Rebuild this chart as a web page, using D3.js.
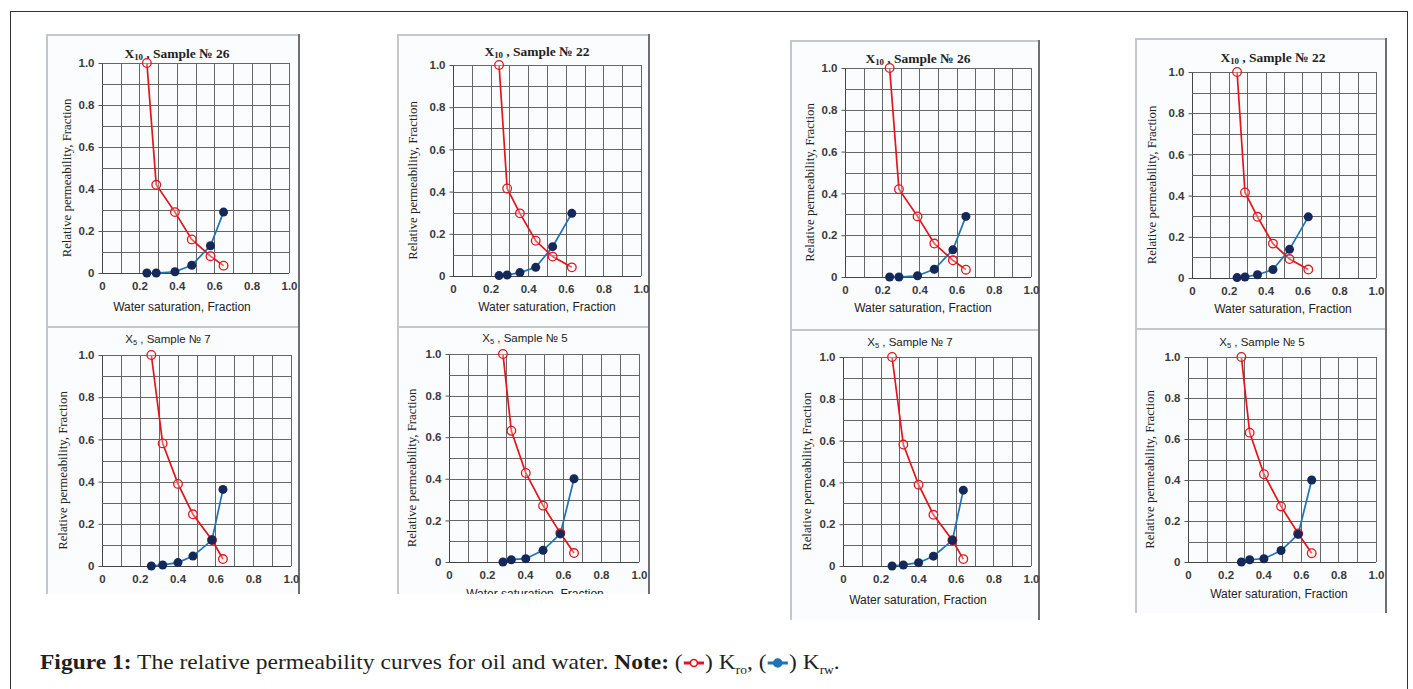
<!DOCTYPE html>
<html>
<head>
<meta charset="utf-8">
<script src="https://cdn.jsdelivr.net/npm/d3@7"></script>
<style>
  body { margin: 0; background: #fff; }
  svg { display: block; }
  .cap text { white-space: pre; }
</style>
</head>
<body>
<svg id="fig" width="1413" height="689"></svg>
<script>
// axis ticks
const swTicks = [0, 0.2, 0.4, 0.6, 0.8, 1.0];
const krTicks = [0, 0.2, 0.4, 0.6, 0.8, 1.0];
const gridSteps = [0, 0.1, 0.2, 0.3, 0.4, 0.5, 0.6, 0.7, 0.8, 0.9, 1.0];

// X10, sample 26
const s26Sw = [0.24, 0.29, 0.39, 0.48, 0.58, 0.65];
const s26Kro = [1.0, 0.42, 0.29, 0.16, 0.08, 0.035];
const s26Krw = [0.0, 0.0, 0.006, 0.037, 0.13, 0.29];

// X10, sample 22
const s22Sw = [0.245, 0.288, 0.356, 0.44, 0.53, 0.632];
const s22Kro = [1.0, 0.415, 0.297, 0.167, 0.092, 0.041];
const s22Krw = [0.002, 0.005, 0.016, 0.041, 0.139, 0.297];

// X5, sample 7
const s7Sw = [0.261, 0.321, 0.402, 0.481, 0.582, 0.64];
const s7Kro = [1.0, 0.581, 0.389, 0.245, 0.123, 0.033];
const s7Krw = [0.0, 0.005, 0.016, 0.047, 0.123, 0.363];

// X5, sample 5
const s5Sw = [0.284, 0.328, 0.404, 0.495, 0.586, 0.658];
const s5Kro = [1.0, 0.631, 0.428, 0.271, 0.139, 0.043];
const s5Krw = [0.0, 0.011, 0.016, 0.056, 0.135, 0.40];

const samples = {
  s26: { well: "10", num: "26", serif: true, sw: s26Sw, kro: s26Kro, krw: s26Krw },
  s22: { well: "10", num: "22", serif: true, sw: s22Sw, kro: s22Kro, krw: s22Krw },
  s7: { well: "5", num: "7", serif: false, sw: s7Sw, kro: s7Kro, krw: s7Krw },
  s5: { well: "5", num: "5", serif: false, sw: s5Sw, kro: s5Kro, krw: s5Krw },
};

// panel placement (the figure repeats the four charts twice)
const panels = [
  { key: "s26", box: [46, 34, 300, 326], px: [102, 289], py: [273, 63], title: [177, 53], yl: 67, xl: [182, 307] },
  { key: "s22", box: [397, 34, 650, 326], px: [453, 641], py: [276, 65], title: [537, 51], yl: 413, xl: [547, 307] },
  { key: "s7", box: [46, 326, 300, 594], px: [102, 291], py: [566, 355], title: [168, 339], yl: 63, xl: [180, 604] },
  { key: "s5", box: [397, 326, 650, 594], px: [449, 639], py: [562, 354], title: [525, 338], yl: 412, xl: [535, 594] },
  { key: "s26", box: [790, 40, 1040, 329], px: [845, 1031], py: [277, 68], title: [918, 58], yl: 810, xl: [923, 308] },
  { key: "s22", box: [1135, 38, 1387, 328], px: [1192, 1376], py: [278, 72], title: [1273, 57], yl: 1152, xl: [1283, 309] },
  { key: "s7", box: [790, 329, 1040, 620], px: [843, 1031], py: [566, 357], title: [910, 342], yl: 807, xl: [918, 600] },
  { key: "s5", box: [1135, 328, 1387, 613], px: [1188, 1376], py: [562, 357], title: [1262, 342], yl: 1150, xl: [1279, 594] },
];

const red = "#e3141c";
const blue = "#1f73b7";
const navy = "#15285a";
const serif = "'Liberation Serif', 'Times New Roman', serif";
const sans = "'Liberation Sans', Arial, sans-serif";

const svg = d3.select("#fig");

// outer frame
svg.append("rect")
  .attr("x", 10.5).attr("y", 11.5)
  .attr("width", 1397).attr("height", 690)
  .attr("fill", "none").attr("stroke", "#333").attr("stroke-width", 1);

const defs = svg.append("defs");

panels.forEach((p, i) => {
  const s = samples[p.key];
  const [bx0, by0, bx1, by1] = p.box;

  defs.append("clipPath").attr("id", `clip${i}`)
    .append("rect").attr("x", bx0).attr("y", by0)
    .attr("width", bx1 - bx0).attr("height", by1 - by0);

  const g = svg.append("g").attr("clip-path", `url(#clip${i})`);

  // panel background + edges
  g.append("rect")
    .attr("x", bx0).attr("y", by0)
    .attr("width", bx1 - bx0).attr("height", by1 - by0)
    .attr("fill", "#fbfcfe");
  g.append("path")
    .attr("d", `M${bx0 + 1},${by1} V${by0 + 1} H${bx1}`)
    .attr("fill", "none").attr("stroke", "#c4c8cc").attr("stroke-width", 2);
  g.append("path")
    .attr("d", `M${bx1 - 1},${by0} V${by1}`)
    .attr("fill", "none").attr("stroke", "#6d6f72").attr("stroke-width", 2);

  const x = d3.scaleLinear().domain([0, 1]).range(p.px);
  const y = d3.scaleLinear().domain([0, 1]).range(p.py);

  // grid
  g.append("g").selectAll("line.v").data(gridSteps).join("line")
    .attr("x1", (d) => Math.round(x(d)) + 0.5).attr("x2", (d) => Math.round(x(d)) + 0.5)
    .attr("y1", y(1)).attr("y2", y(0))
    .attr("stroke", (d) => (d === 0 ? "#444" : "#666")).attr("stroke-width", 1);
  g.append("g").selectAll("line.h").data(gridSteps).join("line")
    .attr("x1", x(0)).attr("x2", x(1))
    .attr("y1", (d) => Math.round(y(d)) + 0.5).attr("y2", (d) => Math.round(y(d)) + 0.5)
    .attr("stroke", (d) => (d === 0 ? "#444" : "#666")).attr("stroke-width", 1);

  // y axis ticks + labels
  const yAxis = d3.axisLeft(y).tickValues(krTicks).tickSize(4).tickPadding(4)
    .tickFormat((d) => (d === 0 ? "0" : d3.format(".1f")(d)));
  const ya = g.append("g").attr("transform", `translate(${Math.round(x(0)) + 0.5},0)`).call(yAxis);
  ya.select(".domain").remove();
  ya.selectAll("line").attr("stroke", "#555");
  ya.selectAll("text").attr("font-family", sans).attr("font-size", 11.5)
    .attr("font-weight", "bold").attr("fill", "#3a3a3a");

  // x axis labels (no tick marks)
  const xAxis = d3.axisBottom(x).tickValues(swTicks).tickSize(0).tickPadding(9)
    .tickFormat((d) => (d === 0 ? "0" : d3.format(".1f")(d)));
  const xa = g.append("g").attr("transform", `translate(0,${y(0)})`).call(xAxis);
  xa.select(".domain").remove();
  xa.selectAll("text").attr("font-family", sans).attr("font-size", 11.5)
    .attr("font-weight", "bold").attr("fill", "#3a3a3a");

  // title
  const t = g.append("text")
    .attr("x", p.title[0]).attr("y", p.title[1]).attr("dy", "0.35em")
    .attr("text-anchor", "middle")
    .attr("font-family", s.serif ? serif : sans)
    .attr("font-size", s.serif ? 13.5 : 11.5)
    .attr("font-weight", s.serif ? "bold" : "normal")
    .attr("fill", "#222");
  t.append("tspan").text("X");
  t.append("tspan").attr("font-size", "0.65em").attr("dy", "0.25em").text(s.well);
  t.append("tspan").attr("dy", "-0.16em").text(` , Sample № ${s.num}`);

  // axis titles
  g.append("text")
    .attr("transform", `translate(${p.yl},${(p.py[0] + p.py[1]) / 2 + 10}) rotate(-90)`)
    .attr("text-anchor", "middle").attr("dy", "0.35em")
    .attr("font-family", serif).attr("font-size", 12.8).attr("fill", "#222")
    .text("Relative permeability, Fraction");
  g.append("text")
    .attr("x", p.xl[0]).attr("y", p.xl[1]).attr("dy", "0.35em")
    .attr("text-anchor", "middle")
    .attr("font-family", sans).attr("font-size", 12).attr("fill", "#222")
    .text("Water saturation, Fraction");

  const line = d3.line().x((d) => x(d[0])).y((d) => y(d[1]));
  const oil = s.sw.map((v, k) => [v, s.kro[k]]);
  const water = s.sw.map((v, k) => [v, s.krw[k]]);

  g.append("path").datum(water).attr("d", line)
    .attr("fill", "none").attr("stroke", blue).attr("stroke-width", 1.7);
  g.append("path").datum(oil).attr("d", line)
    .attr("fill", "none").attr("stroke", red).attr("stroke-width", 1.7);

  // oil markers first, water markers sit on top where they overlap
  g.append("g").selectAll("circle").data(oil).join("circle")
    .attr("cx", (d) => x(d[0])).attr("cy", (d) => y(d[1])).attr("r", 4.3)
    .attr("fill", "rgba(255,255,255,0.3)").attr("stroke", red).attr("stroke-width", 1.3);
  g.append("g").selectAll("circle").data(water).join("circle")
    .attr("cx", (d) => x(d[0])).attr("cy", (d) => y(d[1])).attr("r", 4.5)
    .attr("fill", navy);
});

// caption with inline legend (source face is narrower, so stretch a bit)
const cap = svg.append("g").attr("class", "cap")
  .attr("transform", "translate(40,669) scale(1.12,1)");
let cx = 0;
function word(str, bold, size, dy) {
  const el = cap.append("text").attr("x", cx).attr("y", dy || 0)
    .attr("xml:space", "preserve")
    .attr("font-family", serif).attr("font-size", size || 21)
    .attr("font-weight", bold ? "bold" : "normal").attr("fill", "#231f20")
    .text(str);
  cx += el.node().getComputedTextLength();
}
function marker(filled) {
  const c = filled ? blue : red;
  cap.append("line").attr("x1", cx + 1).attr("x2", cx + 19).attr("y1", -6).attr("y2", -6)
    .attr("stroke", c).attr("stroke-width", 3);
  cap.append("ellipse").attr("cx", cx + 10).attr("cy", -6)
    .attr("rx", (filled ? 4 : 3.5) / 1.12).attr("ry", filled ? 4 : 3.5)
    .attr("fill", filled ? c : "#fff").attr("stroke", c).attr("stroke-width", 1.4);
  cx += 20;
}
word("Figure 1:", true);
word(" The relative permeability curves for oil and water. ");
word("Note:", true);
word(" (");
marker(false);
word(") K");
word("ro", false, 12, 5);
word(", (");
marker(true);
word(") K");
word("rw", false, 12, 5);
word(".");
</script>
</body>
</html>
